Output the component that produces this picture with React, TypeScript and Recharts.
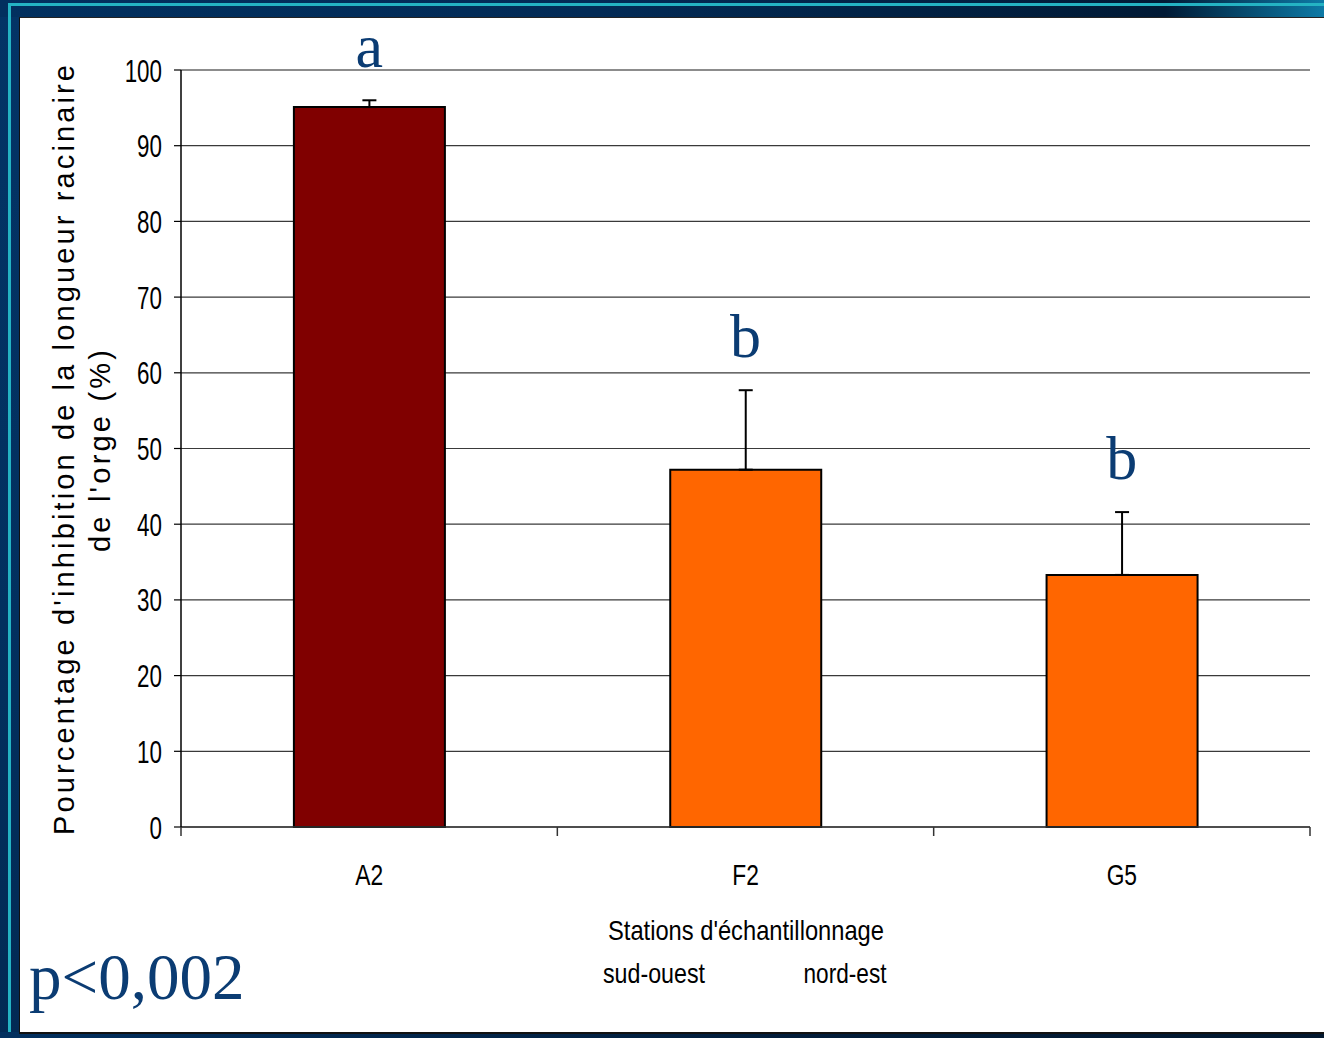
import React from "react";
import {
  BarChart,
  Bar,
  Cell,
  XAxis,
  YAxis,
  CartesianGrid,
  ErrorBar,
  ReferenceLine,
  ReferenceDot,
} from "recharts";

// Inhibition of barley root length per sampling station
const stations = ["A2", "F2", "G5"];
const inhibition = [95.1, 47.2, 33.3];
const stdError = [0.9, 10.5, 8.3];
const groupLetters = ["a", "b", "b"];
const barColors = ["#800000", "#ff6600", "#ff6600"];
const yTicks = [0, 10, 20, 30, 40, 50, 60, 70, 80, 90, 100];

const W = 1324;
const H = 1038;
const PLOT_LEFT = 181;
const PLOT_RIGHT = 1310;
const PLOT_TOP = 70;
const PLOT_BOTTOM = 827;
const Y_AXIS_W = 60;
const X_AXIS_H = 40;
const STEP = (PLOT_RIGHT - PLOT_LEFT) / stations.length;

const SANS = "'Liberation Sans', Arial, sans-serif";
const SERIF = "'Liberation Serif', 'Times New Roman', serif";
const NAVY_TEXT = "#0b3c73";

const rows = stations.map((station, i) => ({
  station,
  value: inhibition[i],
  err: [0, stdError[i]],
}));

function ValueTick(props: any) {
  const { x, y, payload } = props;
  return (
    <text
      transform={`translate(${x},${y}) scale(0.7,1)`}
      textAnchor="end"
      dy="0.36em"
      fontFamily={SANS}
      fontSize={32}
      fill="#000"
    >
      {payload.value}
    </text>
  );
}

// category label in the middle of the band, tick marks on the band edges
function StationTick(props: any) {
  const { x, payload, index } = props;
  const left = x - STEP / 2;
  const right = x + STEP / 2;
  return (
    <g>
      <line x1={left} x2={left} y1={PLOT_BOTTOM} y2={PLOT_BOTTOM + 9} stroke="#333" strokeWidth={1.5} />
      {index === stations.length - 1 && (
        <line x1={right} x2={right} y1={PLOT_BOTTOM} y2={PLOT_BOTTOM + 9} stroke="#333" strokeWidth={1.5} />
      )}
      <text
        transform={`translate(${x},${PLOT_BOTTOM + 58}) scale(0.76,1)`}
        textAnchor="middle"
        fontFamily={SANS}
        fontSize={30}
        fill="#000"
      >
        {payload.value}
      </text>
    </g>
  );
}

function LetterLabel(props: any) {
  const { viewBox, text } = props;
  if (!viewBox) return null;
  return (
    <text
      x={viewBox.x + (viewBox.width || 0) / 2}
      y={viewBox.y - 33}
      textAnchor="middle"
      fontFamily={SERIF}
      fontSize={62}
      fill={NAVY_TEXT}
    >
      {text}
    </text>
  );
}

export default function App() {
  return (
    <div
      style={{
        position: "absolute",
        left: 0,
        top: 0,
        width: W,
        height: H,
        overflow: "hidden",
        background: "linear-gradient(180deg, #033466 0%, #02305f 60%, #022a54 100%)",
      }}
    >
      {/* slide frame */}
      <div
        style={{
          position: "absolute",
          left: 0,
          top: 0,
          width: W,
          height: 17,
          background: "linear-gradient(90deg, #02305f 0%, #032b56 45%, #011a35 88%, #0d7aa6 100%)",
        }}
      />
      <div style={{ position: "absolute", left: 8, top: 3, width: W - 8, height: 3, background: "#24b3c3" }} />
      <div style={{ position: "absolute", left: 8, top: 3, width: 3, height: H - 3, background: "#24b3c3" }} />
      <div
        style={{
          position: "absolute",
          left: 0,
          top: 1032,
          width: W,
          height: H - 1032,
          background: "linear-gradient(90deg, #02305f 0%, #021d3a 60%, #02182f 100%)",
        }}
      />
      <div
        style={{
          position: "absolute",
          left: 19,
          top: 17,
          width: W - 19,
          height: 1034 - 17,
          background: "#fff",
          borderLeft: "1px solid #111",
          borderTop: "1px solid #222",
          borderBottom: "2px solid #111",
          boxSizing: "border-box",
        }}
      />

      <div style={{ position: "absolute", left: 0, top: 0 }}>
        <BarChart
          width={W}
          height={H}
          data={rows}
          barCategoryGap="30%"
          margin={{
            top: PLOT_TOP,
            right: W - PLOT_RIGHT,
            bottom: H - PLOT_BOTTOM - X_AXIS_H,
            left: PLOT_LEFT - Y_AXIS_W,
          }}
        >
          <CartesianGrid vertical={false} stroke="#3a3a3a" strokeWidth={1.2} />
          <XAxis
            dataKey="station"
            height={X_AXIS_H}
            axisLine={{ stroke: "#333", strokeWidth: 1.5 }}
            tickLine={false}
            tick={<StationTick />}
            interval={0}
          />
          <YAxis
            width={Y_AXIS_W}
            domain={[0, 100]}
            ticks={yTicks}
            interval={0}
            tickSize={7}
            tickMargin={12}
            axisLine={{ stroke: "#000", strokeWidth: 1.5 }}
            tickLine={{ stroke: "#000", strokeWidth: 1.2 }}
            tick={<ValueTick />}
          />
          <YAxis
            yAxisId="frame"
            orientation="right"
            width={0}
            domain={[0, 100]}
            tick={false}
            tickLine={false}
            axisLine={{ stroke: "#8c8c8c", strokeWidth: 2.5 }}
          />
          <ReferenceLine y={100} stroke="#8c8c8c" strokeWidth={2} />
          <Bar dataKey="value" stroke="#000" strokeWidth={2} isAnimationActive={false}>
            {rows.map((r, i) => (
              <Cell key={r.station} fill={barColors[i]} />
            ))}
            <ErrorBar dataKey="err" direction="y" width={7} stroke="#000" strokeWidth={2} />
          </Bar>
          {rows.map((r, i) => (
            <ReferenceDot
              key={`letter-${r.station}`}
              x={r.station}
              y={inhibition[i] + stdError[i]}
              r={0}
              stroke="none"
              fill="none"
              label={<LetterLabel text={groupLetters[i]} />}
            />
          ))}
        </BarChart>
      </div>

      <svg
        width={W}
        height={H}
        style={{ position: "absolute", left: 0, top: 0, pointerEvents: "none" }}
      >
        <text
          transform="translate(74,450) rotate(-90)"
          textAnchor="middle"
          fontFamily={SANS}
          fontSize={29}
          textLength={770}
          lengthAdjust="spacing"
          fill="#000"
        >
          Pourcentage d'inhibition de la longueur racinaire
        </text>
        <text
          transform="translate(110,451) rotate(-90)"
          textAnchor="middle"
          fontFamily={SANS}
          fontSize={29}
          textLength={202}
          lengthAdjust="spacing"
          fill="#000"
        >
          de l'orge (%)
        </text>
        <text
          x={746}
          y={940}
          textAnchor="middle"
          fontFamily={SANS}
          fontSize={28}
          textLength={276}
          lengthAdjust="spacingAndGlyphs"
          fill="#000"
        >
          Stations d'échantillonnage
        </text>
        <text
          x={654}
          y={983}
          textAnchor="middle"
          fontFamily={SANS}
          fontSize={28}
          textLength={102}
          lengthAdjust="spacingAndGlyphs"
          fill="#000"
        >
          sud-ouest
        </text>
        <text
          x={845}
          y={983}
          textAnchor="middle"
          fontFamily={SANS}
          fontSize={28}
          textLength={83}
          lengthAdjust="spacingAndGlyphs"
          fill="#000"
        >
          nord-est
        </text>
        <text x={29} y={999} fontFamily={SERIF} fontSize={65} fill={NAVY_TEXT}>
          p&lt;0,002
        </text>
      </svg>
    </div>
  );
}
